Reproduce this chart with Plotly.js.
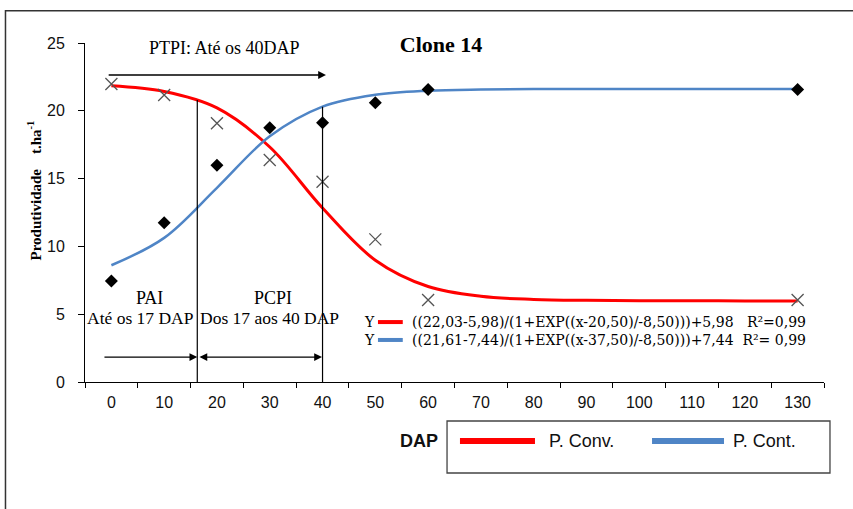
<!DOCTYPE html>
<html><head><meta charset="utf-8">
<script src="https://cdn.plot.ly/plotly-3.0.1.min.js"></script>
<style>html,body{margin:0;padding:0;background:#fff}</style>
</head><body>
<div id="chart" style="width:853px;height:509px"></div>
<script>
// Observed data (DAP = days after planting)
const dapPoints = [0, 10, 20, 30, 40, 50, 60, 130];
const pContPoints = [7.45, 11.75, 15.98, 18.75, 19.12, 20.6, 21.58, 21.58];   // diamonds
const pConvPoints = [21.98, 21.17, 19.08, 16.37, 14.77, 10.52, 6.05, 6.05];   // crosses

// Fitted curves
const dapCurve = [0, 10, 20, 30, 40, 50, 60, 70, 80, 90, 100, 110, 120, 130];
const pConvCurve = [21.84, 21.42, 20.21, 17.33, 12.83, 8.98, 7.04, 6.32, 6.09, 6.02, 6.00, 5.99, 5.98, 5.98];
const pContCurve = [8.61, 10.63, 14.32, 18.12, 20.31, 21.18, 21.48, 21.57, 21.60, 21.61, 21.61, 21.61, 21.61, 21.61];

const xTickVals = [0, 10, 20, 30, 40, 50, 60, 70, 80, 90, 100, 110, 120, 130];
const xTickText = ['0','10','20','30','40','50','60','70','80','90','100','110','120','130'];
const seriesNames = ['P. Conv.', 'P. Cont.'];
const eqConv = '((22,03-5,98)/(1+EXP((x-20,50)/-8,50)))+5,98   R²=0,99';
const eqCont = '((21,61-7,44)/(1+EXP((x-37,50)/-8,50)))+7,44  R²= 0,99';

const RED = '#ff0000', BLUE = '#4f85c6';
const serif = 'Liberation Serif, Times New Roman, serif';
const wideSerif = 'DejaVu Serif, serif';
const sans = 'Liberation Sans, Arial, sans-serif';

const traces = [
  {x: dapCurve, y: pConvCurve, mode: 'lines', name: seriesNames[0], line: {color: RED, width: 3, shape: 'spline'}, showlegend: false, hoverinfo: 'skip'},
  {x: dapCurve, y: pContCurve, mode: 'lines', name: seriesNames[1], line: {color: BLUE, width: 2.5, shape: 'spline'}, showlegend: false, hoverinfo: 'skip'},
  {x: dapPoints, y: pConvPoints, mode: 'markers', marker: {symbol: 'x-thin-open', size: 12, color: '#555', line: {color: '#555', width: 1.3}}, showlegend: false},
  {x: dapPoints, y: pContPoints, mode: 'markers', marker: {symbol: 'diamond', size: 10, color: '#000'}, showlegend: false}
];

const arrow = (x0, y0, x1, y1, both) => ({
  x: x1, y: y1, ax: x0, ay: y0, xref: 'x', yref: 'y', axref: 'x', ayref: 'y',
  text: '', showarrow: true, arrowhead: 2, arrowsize: 1.2, arrowwidth: 1.3, arrowcolor: '#000',
  startarrowhead: 2, startarrowsize: 1.2, arrowside: both ? 'end+start' : 'end', standoff: 0, startstandoff: 0
});
const txt = (x, y, t, size, anchor, family) => ({
  x: x, y: y, xref: 'x', yref: 'y', text: t, showarrow: false,
  xanchor: anchor || 'center', yanchor: 'middle', font: {family: family || serif, size: size, color: '#000'}
});
const ptxt = (x, y, t, size, opts) => Object.assign({
  x: x, y: y, xref: 'paper', yref: 'paper', text: t, showarrow: false,
  xanchor: 'left', yanchor: 'middle', font: {family: sans, size: size, color: '#111'}
}, opts || {});

const LEG_Y = -0.174;
const layout = {
  width: 853, height: 509,
  margin: {l: 85, r: 29, t: 43, b: 127},
  paper_bgcolor: '#fff', plot_bgcolor: '#fff',
  title: {text: '<b>Clone 14</b>', font: {family: serif, size: 22, color: '#000'},
          xref: 'paper', x: 0.426, xanchor: 'left', yref: 'container', y: 0.912, yanchor: 'middle'},
  xaxis: {range: [-5, 135], tickmode: 'array', tickvals: xTickVals, ticktext: xTickText,
          ticks: '', showgrid: false, zeroline: false, showline: true, linecolor: '#000', linewidth: 1,
          tickfont: {family: sans, size: 16, color: '#111'}, ticklabelstandoff: 6,
          minor: {tick0: -5, dtick: 10, ticks: 'outside', ticklen: 5, tickcolor: '#000', tickwidth: 1, showgrid: false}},
  yaxis: {range: [0, 25], dtick: 5, ticks: 'outside', ticklen: 6, tickcolor: '#000',
          showgrid: false, zeroline: false, showline: true, linecolor: '#000', linewidth: 1,
          tickfont: {family: sans, size: 16, color: '#111'}, ticklabelstandoff: 10},
  showlegend: false,
  shapes: [
    // outer chart frame
    {type: 'rect', xref: 'paper', yref: 'paper', x0: -0.1076, x1: 1.2, y0: -0.5, y1: 1.0953, line: {color: '#333', width: 1.5}},
    // legend box and samples
    {type: 'rect', xref: 'paper', yref: 'paper', x0: 0.4899, x1: 1.0081, y0: -0.2684, y1: -0.1150, line: {color: '#444', width: 1.3}},
    {type: 'line', xref: 'paper', yref: 'paper', x0: 0.5074, x1: 0.6089, y0: LEG_Y, y1: LEG_Y, line: {color: RED, width: 6}},
    {type: 'line', xref: 'paper', yref: 'paper', x0: 0.7673, x1: 0.8647, y0: LEG_Y, y1: LEG_Y, line: {color: BLUE, width: 6}},
    // period divider lines
    {type: 'line', xref: 'x', yref: 'y', x0: 16.27, x1: 16.27, y0: 0, y1: 20.8, line: {color: '#000', width: 1.2}},
    {type: 'line', xref: 'x', yref: 'y', x0: 40, x1: 40, y0: 0, y1: 20.3, line: {color: '#000', width: 1.2}},
    // equation swatches
    {type: 'line', xref: 'x', yref: 'y', x0: 50.5, x1: 55.2, y0: 4.42, y1: 4.42, line: {color: RED, width: 4}},
    {type: 'line', xref: 'x', yref: 'y', x0: 50.5, x1: 55.2, y0: 3.10, y1: 3.10, line: {color: BLUE, width: 4}}
  ],
  annotations: [
    txt(21.5, 24.6, 'PTPI: Até os 40DAP', 18),
    arrow(-0.8, 22.64, 40.65, 22.64, false),
    txt(7.3, 6.19, 'PAI', 18),
    txt(5.6, 4.72, 'Até os 17 DAP', 17.5),
    txt(30.6, 6.19, 'PCPI', 18),
    txt(29.9, 4.72, 'Dos 17 aos 40 DAP', 17.5),
    arrow(-1.6, 1.84, 16.27, 1.84, false),
    arrow(16.4, 1.84, 39.9, 1.84, true),
    Object.assign(txt(47.4, 3.76, 'Y<br>Y', 14, 'left', wideSerif), {align: 'left'}),
    Object.assign(txt(56.6, 3.76, eqConv + '<br>' + eqCont, 14, 'left', wideSerif), {align: 'left'}),
    {xref: 'paper', yref: 'paper', x: -0.0677, y: 0.565, text: '<b>Produtividade    t.ha<sup>-1</sup></b>', textangle: -90,
     showarrow: false, xanchor: 'center', yanchor: 'middle', font: {family: serif, size: 15, color: '#000'}},
    ptxt(0.4519, LEG_Y, '<b>DAP</b>', 18, {xanchor: 'center'}),
    ptxt(0.6250, LEG_Y, seriesNames[0], 18),
    ptxt(0.8740, LEG_Y, seriesNames[1], 18)
  ]
};

Plotly.newPlot('chart', traces, layout, {displayModeBar: false, staticPlot: true});
</script>
</body></html>
